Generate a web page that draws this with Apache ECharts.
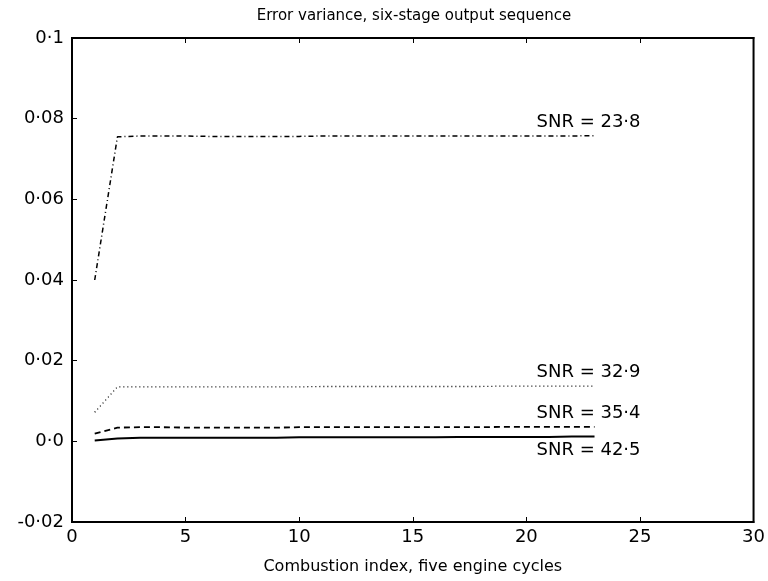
<!DOCTYPE html>
<html>
<head>
<meta charset="utf-8">
<script src="https://cdn.jsdelivr.net/npm/echarts@6/dist/echarts.min.js"></script>
<style>html,body{margin:0;padding:0;background:#fff}#c{width:768px;height:581px}</style>
</head>
<body>
<div id="c"></div>
<script>
// x: combustion index
const xValues = [1,2,3,4,5,6,7,8,9,10,11,12,13,14,15,16,17,18,19,20,21,22,23];
// error variance series
const snr238 = [0.0400,0.0755,0.0757,0.0757,0.0757,0.0756,0.0756,0.0756,0.0756,0.0756,0.0757,0.0757,0.0757,0.0757,0.0757,0.0757,0.0757,0.0757,0.0757,0.0757,0.0757,0.0757,0.0758];
const snr329 = [0.0072,0.0135,0.0135,0.0135,0.0135,0.0135,0.0135,0.0135,0.0135,0.0135,0.0136,0.0136,0.0136,0.0136,0.0136,0.0136,0.0136,0.0136,0.0137,0.0137,0.0137,0.0137,0.0137];
const snr354 = [0.0019,0.0034,0.0035,0.0035,0.0034,0.0034,0.0034,0.0034,0.0034,0.0035,0.0035,0.0035,0.0035,0.0035,0.0035,0.0035,0.0035,0.0035,0.0036,0.0036,0.0036,0.0036,0.0036];
const snr425 = [0.0002,0.0007,0.0009,0.0009,0.0009,0.0009,0.0009,0.0009,0.0009,0.0010,0.0010,0.0010,0.0010,0.0010,0.0010,0.0010,0.0011,0.0011,0.0011,0.0011,0.0011,0.0012,0.0012];
const seriesNames = ['SNR = 23·8','SNR = 32·9','SNR = 35·4','SNR = 42·5'];
// tick labels
const yTickValues = [-0.02,0,0.02,0.04,0.06,0.08,0.1];
const yTickLabels = ['-0·02','0·0','0·02','0·04','0·06','0·08','0·1'];
const xTickLabels = ['0','5','10','15','20','25','30'];
const titleText = 'Error variance, six-stage output sequence';
const xAxisName = 'Combustion index, five engine cycles';

const font = 'DejaVu Sans';
function ylab(v){
  for (let i=0;i<yTickValues.length;i++) if (Math.abs(v-yTickValues[i])<1e-9) return yTickLabels[i];
  return '';
}
function mk(name, vals, dash, width, below){
  const n = vals.length-1;
  return {
    type:'line', name:name, data: xValues.map((x,i)=>[x, vals[i]]),
    symbol:'none', animation:false,
    lineStyle:{color:'#000', width:width, type:dash},
    markPoint:{
      symbol:'circle', symbolSize:1, itemStyle:{color:'rgba(0,0,0,0)'},
      label:{show:true, position: below?'bottom':'top', distance:4, offset:[-6,0],
        formatter:name, color:'#000', fontFamily:font, fontSize:18},
      data:[{coord:[xValues[n], vals[n]]}]
    }
  };
}
const chart = echarts.init(document.getElementById('c'), null, {renderer:'canvas'});
chart.setOption({
  backgroundColor:'#fff',
  animation:false,
  title:{text:titleText, left:409, top:4, textAlign:'center',
    textStyle:{fontFamily:font, fontSize:15, fontWeight:'normal', color:'#000'}},
  grid:{left:72, right:13, top:38, bottom:59, show:true, borderColor:'#000', borderWidth:2, backgroundColor:'transparent'},
  xAxis:[{
    type:'value', min:0, max:30, interval:5,
    name:xAxisName, nameLocation:'middle', nameGap:37,
    nameTextStyle:{fontFamily:font, fontSize:16, color:'#000'},
    axisLine:{show:true, onZero:false, lineStyle:{color:'#000', width:2}},
    axisTick:{show:true, inside:true, length:5, lineStyle:{color:'#000'}},
    axisLabel:{fontFamily:font, fontSize:18, color:'#000', margin:6,
      formatter:(v)=>xTickLabels[Math.round(v/5)]},
    splitLine:{show:false}
  },{
    type:'value', min:0, max:30, interval:5, position:'top',
    axisLine:{show:true, onZero:false, lineStyle:{color:'#000', width:2}},
    axisTick:{show:true, inside:true, length:5, lineStyle:{color:'#000'}},
    axisLabel:{show:false}, splitLine:{show:false}
  }],
  yAxis:{
    type:'value', min:-0.02, max:0.1, interval:0.02,
    axisLine:{show:true, onZero:false, lineStyle:{color:'#000', width:2}},
    axisTick:{show:true, inside:true, length:5, lineStyle:{color:'#000'}},
    axisLabel:{fontFamily:font, fontSize:18, color:'#000', margin:8, formatter:ylab},
    splitLine:{show:false}
  },
  series:[
    mk(seriesNames[0], snr238, [5,3,1,3], 1.5, false),
    mk(seriesNames[1], snr329, [1,3], 1.3, false),
    mk(seriesNames[2], snr354, [6,4], 1.8, false),
    mk(seriesNames[3], snr425, 'solid', 2, true)
  ]
});
</script>
</body>
</html>
